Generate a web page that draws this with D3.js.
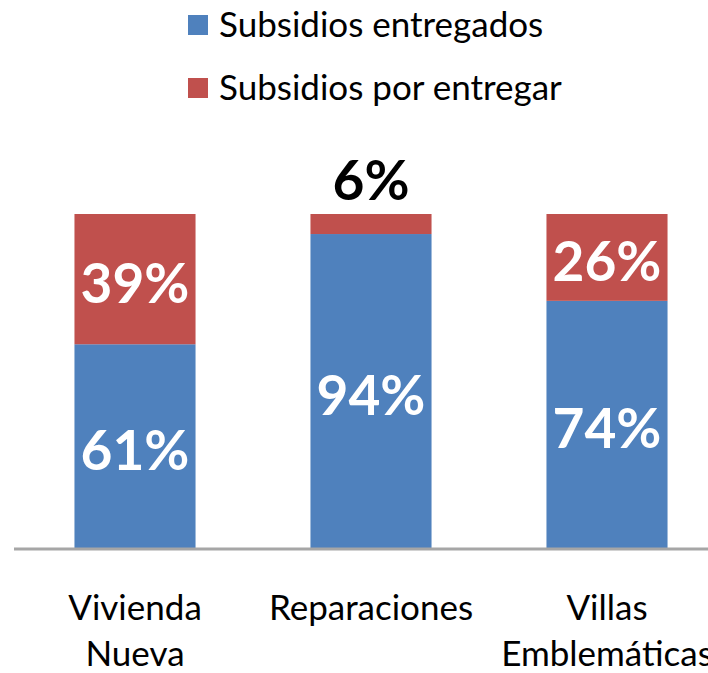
<!DOCTYPE html>
<html>
<head>
<meta charset="utf-8">
<script src="https://cdn.jsdelivr.net/npm/d3@7"></script>
<style>
  body { margin: 0; background: #fff; }
  svg { display: block; font-family: Lato, "Open Sans", sans-serif; }
</style>
</head>
<body>
<script>
// chart data
var categories = [["Vivienda", "Nueva"], ["Reparaciones"], ["Villas", "Emblemáticas"]];
var entregados = [61, 94, 74];
var porEntregar = [39, 6, 26];
var seriesNames = ["Subsidios entregados", "Subsidios por entregar"];
var colors = ["#4F81BD", "#C0504D"];

var full_width = 708, full_height = 673;
var plotTop = 214, plotBottom = 548;

var svg = d3.select("body").append("svg")
  .attr("width", full_width)
  .attr("height", full_height);

var keys = categories.map(function(c) { return c.join(" "); });

// set the ranges
var x = d3.scaleBand()
  .domain(keys)
  .range([17, 725])
  .paddingInner(0.487)
  .paddingOuter(0.2435);

var y = d3.scaleLinear()
  .domain([0, 100])
  .range([plotBottom, plotTop]);

var data = keys.map(function(k, i) {
  return { key: k, a: entregados[i], b: porEntregar[i] };
});

// blue segments
svg.selectAll("rect.a")
  .data(data)
  .enter().append("rect")
  .attr("class", "a")
  .attr("x", function(d) { return x(d.key); })
  .attr("width", x.bandwidth())
  .attr("y", function(d) { return y(d.a); })
  .attr("height", function(d) { return y(0) - y(d.a); })
  .attr("fill", colors[0]);

// red segments
svg.selectAll("rect.b")
  .data(data)
  .enter().append("rect")
  .attr("class", "b")
  .attr("x", function(d) { return x(d.key); })
  .attr("width", x.bandwidth())
  .attr("y", function(d) { return y(d.a + d.b); })
  .attr("height", function(d) { return y(d.a) - y(d.a + d.b); })
  .attr("fill", colors[1]);

// axis line
svg.append("line")
  .attr("x1", 14).attr("x2", full_width)
  .attr("y1", y(0) + 1).attr("y2", y(0) + 1)
  .attr("stroke", "#A6A6A6")
  .attr("stroke-width", 3);

// value labels
var labelSize = 55;
svg.selectAll("text.va")
  .data(data)
  .enter().append("text")
  .attr("x", function(d) { return x(d.key) + x.bandwidth() / 2; })
  .attr("y", function(d) { return (y(0) + y(d.a)) / 2 + 24; })
  .attr("text-anchor", "middle")
  .attr("font-size", labelSize)
  .attr("font-weight", "bold")
  .attr("fill", "#fff")
  .text(function(d) { return d.a + "%"; });

svg.selectAll("text.vb")
  .data(data)
  .enter().append("text")
  .attr("x", function(d) { return x(d.key) + x.bandwidth() / 2; })
  .attr("y", function(d) {
    // small segment: label sits above the bar
    if (y(d.a) - y(d.a + d.b) < 60) return y(d.a + d.b) - 14;
    return (y(d.a) + y(d.a + d.b)) / 2 + 24;
  })
  .attr("text-anchor", "middle")
  .attr("font-size", labelSize)
  .attr("font-weight", "bold")
  .attr("fill", function(d) { return (y(d.a) - y(d.a + d.b) < 60) ? "#000" : "#fff"; })
  .text(function(d) { return d.b + "%"; });

// category labels
var cat = svg.selectAll("text.cat")
  .data(categories)
  .enter().append("text")
  .attr("class", "cat")
  .attr("text-anchor", "middle")
  .attr("font-size", 35)
  .attr("fill", "#000")
  .attr("transform", function(d, i) { return "translate(" + (x(keys[i]) + x.bandwidth() / 2) + ",620)"; });

cat.selectAll("tspan")
  .data(function(d) { return d; })
  .enter().append("tspan")
  .attr("x", 0)
  .attr("dy", function(d, i) { return i === 0 ? 0 : 46; })
  .text(function(d) { return d; });

// legend
var legend = svg.selectAll("g.legend")
  .data(seriesNames)
  .enter().append("g")
  .attr("transform", function(d, i) { return "translate(188," + (25 + i * 63) + ")"; });

legend.append("rect")
  .attr("x", 0).attr("y", -10)
  .attr("width", 20).attr("height", 20)
  .attr("fill", function(d, i) { return colors[i]; });

legend.append("text")
  .attr("x", 31)
  .attr("y", 12)
  .attr("font-size", 35)
  .attr("fill", "#000")
  .text(function(d) { return d; });
</script>
</body>
</html>
